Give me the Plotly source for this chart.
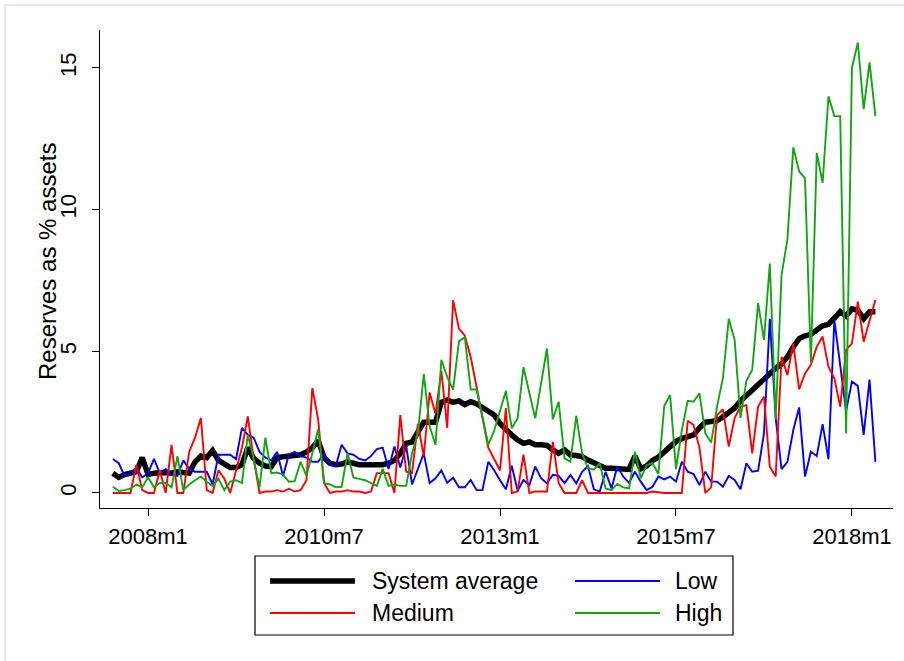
import plotly.graph_objects as go

# Monthly series, 2007m7 .. 2018m5 (Stata monthly dates: 2007m7 = 570)
start_month = 570
n_months = 131
months = [start_month + k for k in range(n_months)]

system_average = [
    0.70, 0.55, 0.65, 0.70, 0.75, 1.25, 0.65, 0.70, 0.72, 0.72,
    0.70, 0.75, 0.72, 0.70, 1.10, 1.30, 1.25, 1.50, 1.15, 1.05,
    0.90, 0.90, 1.00, 1.60, 1.22, 1.05, 0.95, 0.93, 1.25, 1.28,
    1.30, 1.32, 1.35, 1.45, 1.60, 1.85, 1.25, 1.05, 1.00, 1.02,
    1.10, 1.05, 1.00, 1.00, 1.00, 1.00, 1.00, 1.05, 1.15, 1.40,
    1.75, 1.80, 2.20, 2.50, 2.50, 2.50, 3.20, 3.28, 3.20, 3.25,
    3.12, 3.22, 3.15, 3.00, 2.85, 2.75, 2.45, 2.22, 2.05, 1.87,
    1.75, 1.80, 1.70, 1.70, 1.68, 1.52, 1.40, 1.52, 1.34, 1.32,
    1.28, 1.16, 1.05, 0.95, 0.87, 0.87, 0.87, 0.85, 0.83, 1.30,
    0.85, 0.95, 1.15, 1.26, 1.45, 1.68, 1.82, 1.92, 1.98, 2.05,
    2.30, 2.50, 2.52, 2.55, 2.68, 2.85, 3.00, 3.25, 3.45, 3.65,
    3.85, 4.05, 4.20, 4.40, 4.55, 4.80, 5.15, 5.45, 5.55, 5.60,
    5.75, 5.90, 5.95, 6.15, 6.40, 6.25, 6.50, 6.45, 6.15, 6.40,
    6.40,
]

low = [
    1.20, 1.05, 0.60, 0.70, 0.90, 0.55, 0.70, 1.20, 0.70, 0.85,
    0.65, 0.60, 1.15, 0.85, 0.75, 0.75, 0.75, 0.30, 1.35, 1.35,
    1.35, 1.20, 2.30, 2.05, 1.95, 1.45, 1.25, 1.15, 1.45, 0.60,
    1.35, 1.45, 1.30, 1.25, 1.10, 1.10, 1.40, 1.00, 0.95, 1.70,
    1.40, 1.35, 1.20, 1.15, 1.30, 1.55, 1.60, 0.85, 1.64, 0.90,
    1.66, 0.30, 0.87, 1.40, 0.35, 0.52, 0.80, 0.36, 0.54, 0.20,
    0.20, 0.46, 0.10, 0.10, 1.10, 0.80, 0.45, 0.13, 0.96, 0.08,
    0.46, 0.28, 0.93, 0.52, 0.34, 0.64, 0.60, 0.35, 0.64, 0.34,
    0.75, 0.95, 0.13, 0.05, 0.75, 0.16, 0.93, 0.58, 0.36, 0.75,
    0.40, 0.10, 0.22, 0.58, 0.48, 0.58, 0.40, 1.10, 0.75, 0.67,
    0.28, 0.75, 0.40, 0.40, 0.22, 0.60, 0.46, 0.13, 1.05, 0.75,
    0.79, 2.10, 6.15, 2.64, 0.84, 1.10, 2.22, 3.02, 0.58, 1.46,
    1.30, 2.43, 1.19, 6.10, 4.50, 2.90, 3.93, 3.78, 2.05, 4.00,
    1.10,
]

medium = [
    0.00, 0.00, 0.00, 0.00, 1.00, 0.10, 0.00, 0.00, 0.80, 0.00,
    1.70, 0.00, 0.00, 1.45, 1.95, 2.65, 0.10, 0.00, 0.80, 0.50,
    0.00, 0.80, 1.60, 2.70, 1.20, 0.00, 0.05, 0.05, 0.10, 0.05,
    0.15, 0.05, 0.10, 0.45, 3.70, 2.60, 0.35, 0.00, 0.05, 0.05,
    0.10, 0.05, 0.05, 0.00, 0.05, 0.70, 0.70, 0.70, 0.00, 2.75,
    0.75, 0.70, 2.45, 1.30, 3.55, 2.80, 4.30, 2.30, 6.80, 5.80,
    5.55, 4.80, 3.75, 2.70, 1.60, 1.20, 0.80, 3.00, 0.00, 0.05,
    1.35, 0.00, 0.05, 0.05, 0.05, 1.80, 0.35, 0.00, 0.00, 0.00,
    0.45, 0.00, 0.00, 0.00, 0.00, 0.00, 0.00, 0.00, 0.02, 0.00,
    0.00, 0.00, 0.05, 0.02, 0.00, 0.00, 0.00, 0.00, 2.55, 2.40,
    1.60, 0.00, 0.20, 2.75, 2.95, 1.64, 2.64, 3.05, 3.10, 1.40,
    3.05, 3.40, 0.93, 0.58, 4.81, 4.16, 5.28, 3.66, 4.22, 4.52,
    5.16, 5.52, 4.46, 4.05, 3.05, 5.05, 5.28, 6.75, 5.34, 6.10,
    6.81,
]

high = [
    0.22, 0.07, 0.10, 0.15, 0.30, 0.20, 0.55, 0.20, 0.35, 0.35,
    0.20, 1.30, 0.10, 0.30, 0.45, 0.58, 0.40, 0.25, 0.50, 0.10,
    0.40, 0.45, 0.35, 2.05, 1.20, 0.20, 1.95, 0.70, 0.72, 0.65,
    0.40, 0.42, 1.10, 0.60, 1.40, 2.25, 0.35, 0.30, 0.20, 0.22,
    1.40, 0.55, 0.50, 0.45, 0.35, 0.25, 0.85, 0.25, 0.30, 0.25,
    0.25, 1.40, 2.10, 4.20, 2.35, 1.70, 4.70, 4.10, 3.65, 5.35,
    5.50, 3.65, 3.65, 2.70, 1.70, 2.20, 2.93, 3.60, 2.28, 2.64,
    4.44, 3.50, 2.64, 3.87, 5.10, 2.60, 3.22, 1.22, 1.10, 2.72,
    1.40, 0.87, 0.83, 1.05, 0.16, 0.10, 0.32, 0.20, 0.16, 1.46,
    0.52, 0.99, 1.05, 0.67, 3.07, 3.46, 0.84, 2.22, 3.25, 3.22,
    3.52, 2.10, 1.78, 3.05, 4.05, 6.15, 5.40, 2.65, 3.95, 4.35,
    6.70, 5.40, 8.10, 2.60, 7.70, 8.95, 12.20, 11.35, 11.10, 4.60,
    12.00, 10.95, 14.00, 13.30, 13.30, 2.10, 15.00, 15.90, 13.55, 15.20,
    13.30,
]

tick_months = [576, 606, 636, 666, 696]
tick_labels = ["2008m1", "2010m7", "2013m1", "2015m7", "2018m1"]
y_ticks = [0, 5, 10, 15]
y_title = "Reserves as % assets"

series = [
    ("System average", system_average, "#000000", 5.5),
    ("Low", low, "#0000FF", 1.9),
    ("Medium", medium, "#FF0000", 1.9),
    ("High", high, "#14A514", 1.9),
]

FONT = "Liberation Sans, Arial, sans-serif"

fig = go.Figure()
for name, values, color, width in series:
    fig.add_trace(go.Scatter(
        x=months, y=values, mode="lines", name=name,
        line=dict(color=color, width=width),
        showlegend=False,
    ))

# Plot-area geometry in pixels, used to place the boxed legend and axis title
W, H = 904, 661
ML, MR, MT, MB = 100, 11, 30, 153
pw, ph = W - ML - MR, H - MT - MB


def px(x):
    return (x - ML) / pw


def py(y):
    return (H - MB - y) / ph


shapes = [
    dict(type="rect", xref="paper", yref="paper",
         x0=px(255), x1=px(733), y0=py(556), y1=py(635),
         line=dict(color="#000000", width=1.2), fillcolor="white", layer="above"),
    dict(type="rect", xref="paper", yref="paper",
         x0=px(5), x1=px(960), y0=py(5), y1=py(720),
         line=dict(color="#DCE4EA", width=1.5), layer="below"),
]
annotations = [
    dict(xref="paper", yref="paper", x=px(47), y=py(262), text=y_title,
         textangle=-90, showarrow=False, xanchor="center", yanchor="middle",
         font=dict(family=FONT, size=24, color="#000000")),
]
legend_rows = [581, 613]
legend_cols = [(270, 355, 370), (575, 660, 673)]
for k, (name, values, color, width) in enumerate(series):
    r, c = divmod(k, 2)
    x0, x1, xt = legend_cols[c]
    yy = py(legend_rows[r])
    shapes.append(dict(type="line", xref="paper", yref="paper",
                       x0=px(x0), x1=px(x1), y0=yy, y1=yy,
                       line=dict(color=color, width=width)))
    annotations.append(dict(xref="paper", yref="paper", x=px(xt), y=yy,
                            text=name, showarrow=False, xanchor="left",
                            yanchor="middle",
                            font=dict(family=FONT, size=23, color="#000000")))

fig.update_layout(
    width=W, height=H,
    margin=dict(l=ML, r=MR, t=MT, b=MB),
    paper_bgcolor="white", plot_bgcolor="white",
    font=dict(family=FONT, color="#000000"),
    shapes=shapes, annotations=annotations,
    xaxis=dict(
        range=[567.8, 703.0], tickmode="array",
        tickvals=tick_months, ticktext=tick_labels,
        showgrid=False, zeroline=False, showline=True,
        linecolor="#000000", linewidth=1,
        ticks="outside", ticklen=7, tickcolor="#000000",
        tickfont=dict(size=22), ticklabelstandoff=2,
    ),
    yaxis=dict(
        range=[-0.53, 16.34], tickmode="array", tickvals=y_ticks,
        showgrid=False, zeroline=False, showline=True,
        linecolor="#000000", linewidth=1,
        ticks="outside", ticklen=7, tickcolor="#000000",
        tickangle=-90, tickfont=dict(size=22), ticklabelstandoff=7,
    ),
)

fig.write_html("out.html")
